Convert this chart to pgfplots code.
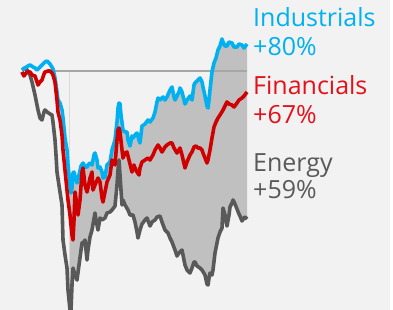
\documentclass[border=0pt]{standalone}
\usepackage{pgfplots}
\pgfplotsset{compat=1.18}
\usepgfplotslibrary{fillbetween}
\usepackage{fontspec}
\setmainfont{Open Sans}
\definecolor{bg}{HTML}{F2F2F2}
\definecolor{ind}{HTML}{00B0F0}
\definecolor{fin}{HTML}{D00000}
\definecolor{fintext}{HTML}{E5101A}
\definecolor{ene}{HTML}{595959}
\definecolor{shade}{HTML}{C0C0C0}
\begin{document}
\begin{tikzpicture}
\begin{axis}[
  scale only axis, width=393pt, height=310pt,
  xmin=0, xmax=393, ymin=0, ymax=310, y dir=reverse,
  ticks=none, axis line style={draw=none},
  axis background/.style={fill=bg},
  clip=true,
]
% vertical marker and horizontal reference
\addplot[color=black!15, line width=0.8pt] coordinates {(69,71) (69,310)};
\addplot[name path=ind, draw=none, forget plot] coordinates {
(22,70)(25,68)(28,66)(30,65)(33,67)(35,68)(37,70)(40,67)(43,64)(45,62)(47,61)(50,64)(53,69)(55,78)(57,92)(58,100)(60,103)(62,110)(63,118)(65,138)(67,150)(68,165)(70,185)(71,193)(72,188)(73,173)(74,172)(76,180)(77,183)(79,175)(81,166)(83,163)(85,167)(87,167)(88,165)(90,163)(92,165)(94,155)(95,153)(97,160)(98,168)(100,167)(102,172)(103,178)(105,177)(107,165)(110,162)(112,150)(115,140)(117,122)(118,108)(119,103)(120,104)(121,115)(123,130)(125,132)(127,132)(128,140)(130,146)(132,136)(133,138)(135,135)(137,133)(139,140)(140,143)(142,126)(145,124)(148,120)(150,122)(153,118)(155,112)(157,102)(158,98)(160,100)(163,97)(165,100)(167,97)(170,90)(172,87)(174,97)(175,100)(177,96)(179,92)(180,88)(182,92)(184,100)(185,104)(187,100)(190,96)(192,100)(194,85)(195,83)(198,80)(200,78)(202,82)(203,87)(205,96)(207,106)(208,108)(209,100)(210,90)(212,72)(214,63)(216,58)(218,50)(220,46)(222,39)(223,42)(225,46)(227,46)(229,42)(232,43)(234,47)(237,47)(239,44)(242,45)(244,48)(247,44)
};
\addplot[name path=ene, draw=none, forget plot] coordinates {
(22,70)(25,68)(27,70)(30,75)(32,82)(35,95)(37,105)(38,110)(40,118)(42,120)(44,112)(45,110)(47,112)(50,114)(52,115)(53,122)(55,140)(56,155)(57,172)(60,192)(62,205)(63,240)(65,255)(67,268)(68,290)(70,310)(71,310)(72,285)(73,268)(75,275)(77,280)(79,265)(82,243)(84,242)(85,240)(87,260)(88,250)(90,237)(92,230)(95,213)(96,220)(98,230)(100,218)(102,220)(105,218)(107,213)(110,212)(112,210)(115,206)(117,185)(118,170)(119,160)(120,175)(122,205)(123,200)(125,205)(128,210)(130,215)(133,215)(135,222)(137,232)(138,238)(140,230)(142,224)(145,220)(147,218)(150,226)(152,222)(155,220)(157,217)(160,216)(162,222)(165,230)(168,233)(170,238)(172,242)(175,250)(177,256)(179,253)(182,250)(184,260)(185,265)(187,270)(190,273)(192,268)(194,262)(195,262)(197,266)(200,268)(202,270)(205,275)(207,284)(208,285)(209,278)(210,273)(212,275)(213,270)(215,253)(217,243)(218,238)(220,232)(222,228)(223,208)(225,215)(227,226)(229,215)(230,207)(232,203)(233,200)(235,204)(237,209)(239,214)(240,216)(242,221)(244,218)(245,217)(247,219)
};
\addplot[fill=shade, draw=none, forget plot] fill between[of=ind and ene, soft clip={domain=69:247}];
\addplot[color=black!35, line width=1.3pt] coordinates {(55,71) (247,71)};
% Energy
\addplot[color=ene, line width=3.6pt, line join=round] coordinates {
(22,70)(25,68)(27,70)(30,75)(32,82)(35,95)(37,105)(38,110)(40,118)(42,120)(44,112)(45,110)(47,112)(50,114)(52,115)(53,122)(55,140)(56,155)(57,172)(60,192)(62,205)(63,240)(65,255)(67,268)(68,290)(70,310)(71,310)(72,285)(73,268)(75,275)(77,280)(79,265)(82,243)(84,242)(85,240)(87,260)(88,250)(90,237)(92,230)(95,213)(96,220)(98,230)(100,218)(102,220)(105,218)(107,213)(110,212)(112,210)(115,206)(117,185)(118,170)(119,160)(120,175)(122,205)(123,200)(125,205)(128,210)(130,215)(133,215)(135,222)(137,232)(138,238)(140,230)(142,224)(145,220)(147,218)(150,226)(152,222)(155,220)(157,217)(160,216)(162,222)(165,230)(168,233)(170,238)(172,242)(175,250)(177,256)(179,253)(182,250)(184,260)(185,265)(187,270)(190,273)(192,268)(194,262)(195,262)(197,266)(200,268)(202,270)(205,275)(207,284)(208,285)(209,278)(210,273)(212,275)(213,270)(215,253)(217,243)(218,238)(220,232)(222,228)(223,208)(225,215)(227,226)(229,215)(230,207)(232,203)(233,200)(235,204)(237,209)(239,214)(240,216)(242,221)(244,218)(245,217)(247,219)
};
% Industrials
\addplot[color=ind, line width=3.6pt, line join=round] coordinates {
(22,70)(25,68)(28,66)(30,65)(33,67)(35,68)(37,70)(40,67)(43,64)(45,62)(47,61)(50,64)(53,69)(55,78)(57,92)(58,100)(60,103)(62,110)(63,118)(65,138)(67,150)(68,165)(70,185)(71,193)(72,188)(73,173)(74,172)(76,180)(77,183)(79,175)(81,166)(83,163)(85,167)(87,167)(88,165)(90,163)(92,165)(94,155)(95,153)(97,160)(98,168)(100,167)(102,172)(103,178)(105,177)(107,165)(110,162)(112,150)(115,140)(117,122)(118,108)(119,103)(120,104)(121,115)(123,130)(125,132)(127,132)(128,140)(130,146)(132,136)(133,138)(135,135)(137,133)(139,140)(140,143)(142,126)(145,124)(148,120)(150,122)(153,118)(155,112)(157,102)(158,98)(160,100)(163,97)(165,100)(167,97)(170,90)(172,87)(174,97)(175,100)(177,96)(179,92)(180,88)(182,92)(184,100)(185,104)(187,100)(190,96)(192,100)(194,85)(195,83)(198,80)(200,78)(202,82)(203,87)(205,96)(207,106)(208,108)(209,100)(210,90)(212,72)(214,63)(216,58)(218,50)(220,46)(222,39)(223,42)(225,46)(227,46)(229,42)(232,43)(234,47)(237,47)(239,44)(242,45)(244,48)(247,44)
};
% Financials
\addplot[color=fin, line width=3.6pt, line join=round] coordinates {
(22,72)(24,76)(26,73)(28,72)(30,72)(32,75)(35,76)(37,82)(38,85)(40,82)(42,80)(44,74)(45,72)(48,71)(50,71)(52,73)(53,75)(55,82)(57,100)(58,112)(60,120)(62,135)(63,150)(65,170)(67,190)(68,200)(70,215)(72,235)(73,240)(74,220)(75,192)(77,205)(78,215)(80,200)(82,172)(83,168)(85,185)(87,192)(88,188)(90,178)(92,172)(93,190)(95,185)(98,178)(100,182)(102,198)(103,202)(105,192)(107,182)(110,175)(112,160)(114,163)(115,165)(117,140)(118,130)(119,128)(120,132)(122,150)(123,158)(125,153)(127,152)(129,160)(132,172)(134,165)(135,168)(137,172)(139,175)(140,168)(142,162)(145,160)(148,158)(150,160)(153,155)(155,150)(158,145)(160,148)(162,152)(165,147)(167,145)(170,143)(172,143)(174,148)(177,153)(179,150)(180,148)(182,155)(185,168)(187,162)(190,155)(192,152)(194,147)(196,146)(198,148)(200,148)(202,150)(203,153)(205,158)(207,163)(208,160)(210,150)(212,138)(214,127)(216,122)(218,118)(220,115)(223,110)(225,106)(227,102)(229,104)(232,105)(234,107)(237,103)(239,100)(242,98)(244,96)(247,92)
};
\fill[white] (axis cs:390,0) rectangle (axis cs:393,310);
\begin{scope}[every node/.style={anchor=base west, inner sep=0pt, font=\fontsize{25}{28}\selectfont}]
\node[text=ind] at (axis cs:253,27) {Industrials};
\node[text=ind] at (axis cs:253,56) {+80\%};
\node[text=fintext] at (axis cs:253,95) {Financials};
\node[text=fintext] at (axis cs:253,124) {+67\%};
\node[text=ene] at (axis cs:253,172) {Energy};
\node[text=ene] at (axis cs:253,199) {+59\%};
\end{scope}
\end{axis}
\end{tikzpicture}
\end{document}
